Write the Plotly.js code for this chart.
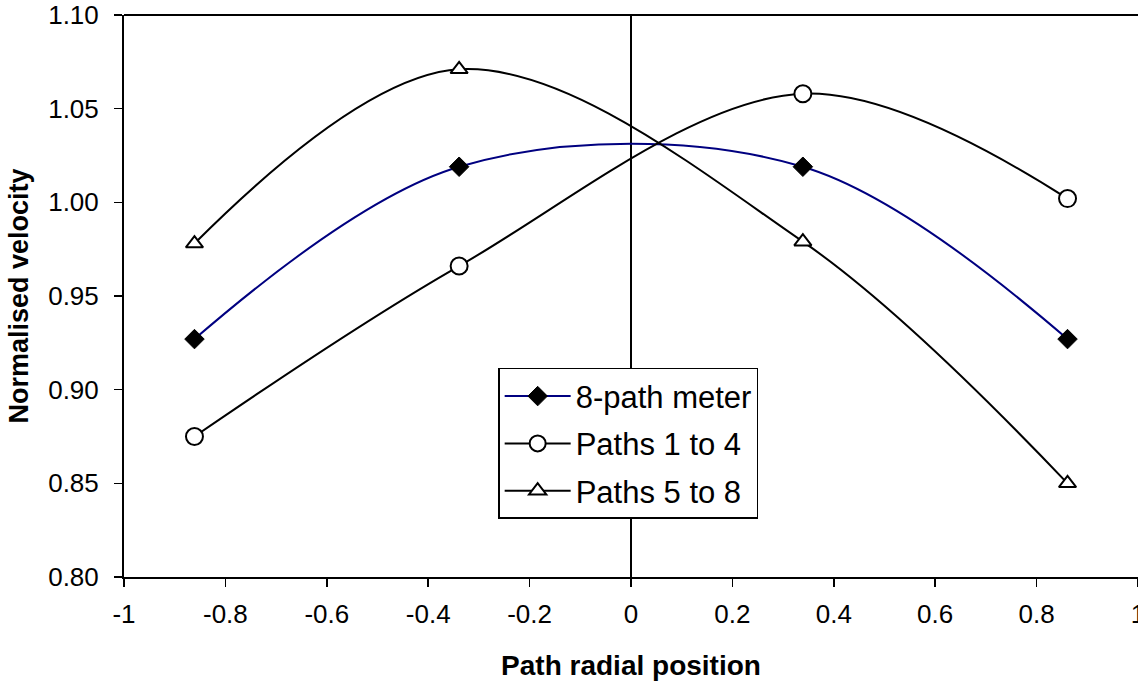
<!DOCTYPE html>
<html>
<head>
<meta charset="utf-8">
<script src="https://cdn.plot.ly/plotly-3.0.1.min.js"></script>
<style>html,body{margin:0;padding:0;background:#fff;}#chart{width:1138px;height:686px;}</style>
</head>
<body>
<div id="chart"></div>
<script>
const positions = [-0.861, -0.339, 0.339, 0.861];
const meter8 = [0.927, 1.019, 1.019, 0.927];
const paths1to4 = [0.875, 0.966, 1.058, 1.002];
const paths5to8 = [0.978, 1.071, 0.979, 0.850];
const seriesNames = ["8-path meter", "Paths 1 to 4", "Paths 5 to 8"];
const xTicks = [-1, -0.8, -0.6, -0.4, -0.2, 0, 0.2, 0.4, 0.6, 0.8, 1];
const xTickText = ["-1", "-0.8", "-0.6", "-0.4", "-0.2", "0", "0.2", "0.4", "0.6", "0.8", "1"];
const yTicks = [0.80, 0.85, 0.90, 0.95, 1.00, 1.05, 1.10];
const yTickText = ["0.80", "0.85", "0.90", "0.95", "1.00", "1.05", "1.10"];

const font = "Liberation Sans, Arial, sans-serif";

const traces = [
  {x: positions, y: meter8, name: seriesNames[0], legendgroup: "a", mode: "lines+markers",
   line: {color: "#000080", width: 2, shape: "spline", smoothing: 1},
   marker: {symbol: "diamond", size: 15, color: "#000000", line: {color: "#000000", width: 1}}},
  {x: positions, y: paths1to4, name: seriesNames[1], legendgroup: "b", mode: "lines+markers",
   line: {color: "#000000", width: 2, shape: "spline", smoothing: 1},
   marker: {symbol: "circle", size: 17, color: "#ffffff", line: {color: "#000000", width: 2}}},
  {x: positions, y: paths5to8, name: seriesNames[2], legendgroup: "c", mode: "lines+markers",
   line: {color: "#000000", width: 2, shape: "spline", smoothing: 1},
   marker: {symbol: "triangle-up", size: 15, color: "#ffffff", line: {color: "#000000", width: 2}}}
];

const layout = {
  width: 1138, height: 686,
  margin: {l: 124, r: 0, t: 15, b: 109},
  paper_bgcolor: "#ffffff", plot_bgcolor: "#ffffff",
  font: {family: font, size: 26, color: "#000000"},
  showlegend: true,
  legend: {x: 0.369, y: 0.372, xanchor: "left", yanchor: "top", bgcolor: "#ffffff",
           bordercolor: "#000000", borderwidth: 1.5, font: {family: font, size: 31, color: "#000"},
           tracegroupgap: 4, traceorder: "grouped", itemwidth: 66},
  xaxis: {range: [-1, 1], tickvals: xTicks, ticktext: xTickText, showgrid: false,
          zeroline: true, zerolinecolor: "#000000", zerolinewidth: 1.5,
          showline: true, linecolor: "#000000", linewidth: 2, mirror: false,
          ticks: "outside", ticklen: 8, tickwidth: 1.5, tickcolor: "#000",
          ticklabeloverflow: "allow", ticklabelstandoff: 5,
          tickfont: {family: font, size: 26}, automargin: false,
          title: {text: "<b>Path radial position</b>", font: {family: font, size: 28}, standoff: 27}},
  yaxis: {range: [0.80, 1.10], tickvals: yTicks, ticktext: yTickText, showgrid: false,
          zeroline: false, showline: true, linecolor: "#000000", linewidth: 2, mirror: false,
          ticks: "outside", ticklen: 8, tickwidth: 1.5, tickcolor: "#000",
          ticklabelstandoff: 10,
          tickfont: {family: font, size: 26}, automargin: false,
          title: {text: "<b>Normalised velocity</b>", font: {family: font, size: 27}, standoff: 12}},
  shapes: [
    {type: "line", xref: "paper", yref: "paper", x0: 0, x1: 1, y0: 1, y1: 1,
     line: {color: "#000000", width: 2}}
  ]
};

Plotly.newPlot("chart", traces, layout, {displayModeBar: false, staticPlot: true});
</script>
</body>
</html>
